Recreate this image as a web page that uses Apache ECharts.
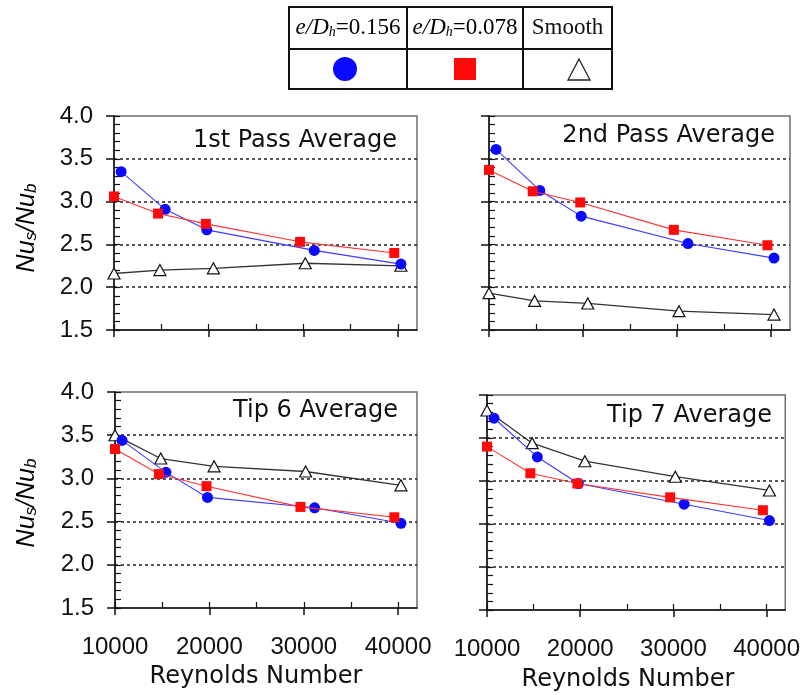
<!DOCTYPE html>
<html>
<head>
<meta charset="utf-8">
<script src="https://cdn.jsdelivr.net/npm/echarts@6/dist/echarts.min.js"></script>
<style>
  html, body { margin: 0; padding: 0; background: #ffffff; }
  #chart { width: 803px; height: 695px; }
</style>
</head>
<body>
<div id="chart"></div>
<script>
// Reynolds numbers at which each configuration was measured
const reRib156 = [10750, 15400, 19800, 31150, 40300];
const reRib078 = [10000, 14650, 19700, 29650, 39600];
const reSmooth = [10000, 14850, 20500, 30200, 40300];

// Nu_s / Nu_b, e/Dh = 0.156 (blue circles)
const rib156Pass1 = [3.35, 2.91, 2.67, 2.43, 2.27];
const rib156Pass2 = [3.61, 3.13, 2.83, 2.51, 2.34];
const rib156Tip6  = [3.44, 3.07, 2.78, 2.66, 2.48];
const rib156Tip7  = [3.73, 3.28, 2.97, 2.73, 2.54];

// Nu_s / Nu_b, e/Dh = 0.078 (red squares)
const rib078Pass1 = [3.06, 2.86, 2.74, 2.53, 2.40];
const rib078Pass2 = [3.37, 3.12, 2.99, 2.67, 2.49];
const rib078Tip6  = [3.34, 3.05, 2.91, 2.67, 2.55];
const rib078Tip7  = [3.40, 3.09, 2.97, 2.81, 2.66];

// Nu_s / Nu_b, smooth channel (open triangles)
const smoothPass1 = [2.16, 2.20, 2.22, 2.28, 2.25];
const smoothPass2 = [1.93, 1.84, 1.81, 1.72, 1.68];
const smoothTip6  = [3.50, 3.23, 3.14, 3.08, 2.92];
const smoothTip7  = [3.82, 3.44, 3.23, 3.05, 2.89];

const panelTitles = ['1st Pass Average', '2nd Pass Average', 'Tip 6 Average', 'Tip 7 Average'];
const xMajorTicks = [10000, 20000, 30000, 40000];
const xMinorTicks = [10000, 15000, 20000, 25000, 30000, 35000, 40000];
const xRange = [10000, 42000];
const yRange = [1.5, 4.0];
const legendLabels = ['0.156', '0.078', 'Smooth'];
const xAxisTitle = 'Reynolds Number';

const panelData = [
  { r156: rib156Pass1, r078: rib078Pass1, sm: smoothPass1 },
  { r156: rib156Pass2, r078: rib078Pass2, sm: smoothPass2 },
  { r156: rib156Tip6,  r078: rib078Tip6,  sm: smoothTip6 },
  { r156: rib156Tip7,  r078: rib078Tip7,  sm: smoothTip7 }
];

// panel frames (pixels)
const gridBoxes = [
  { left: 114, top: 116, width: 303, height: 214 },
  { left: 489, top: 116, width: 301, height: 214 },
  { left: 115, top: 392, width: 302, height: 216 },
  { left: 487, top: 395, width: 301, height: 215 }
];
const titlePos = [
  { x: 397, y: 141 }, { x: 775, y: 136 }, { x: 398, y: 411 }, { x: 772, y: 416 }
];

const tickFont = '"Liberation Sans", Arial, sans-serif';
const textFont = '"DejaVu Sans", Verdana, sans-serif';

const grids = [], xAxes = [], yAxes = [], series = [];

const zip = (xs, ys) => xs.map((x, i) => [x, ys[i]]);

gridBoxes.forEach((g, i) => {
  const showYLabels = (i % 2 === 0);
  const showXLabels = (i >= 2);
  grids.push(Object.assign({
    show: true, borderColor: '#6e6e6e', borderWidth: 1.5, backgroundColor: 'transparent'
  }, g));

  // primary x axis: outward major ticks and labels
  xAxes.push({
    type: 'value', gridIndex: i, min: xRange[0], max: xRange[1], position: 'bottom',
    axisLine: { show: true, lineStyle: { color: '#111', width: 1.5 } },
    axisTick: { show: true, inside: false, length: 7, customValues: xMajorTicks,
                lineStyle: { color: '#111', width: 1.5 } },
    axisLabel: { show: showXLabels, customValues: xMajorTicks, margin: 27,
                 color: '#111', fontSize: 24, fontFamily: tickFont,
                 formatter: v => String(v) },
    splitLine: { show: false }
  });
  // secondary x axis: inward half-step ticks
  xAxes.push({
    type: 'value', gridIndex: i, min: xRange[0], max: xRange[1], position: 'bottom',
    axisLine: { show: false },
    axisTick: { show: true, inside: true, length: 6, customValues: xMinorTicks,
                lineStyle: { color: '#111', width: 1.2 } },
    axisLabel: { show: false },
    splitLine: { show: false }
  });

  // primary y axis: labels, outward ticks, dashed grid lines
  yAxes.push({
    type: 'value', gridIndex: i, min: yRange[0], max: yRange[1], interval: 0.5, position: 'left',
    axisLine: { show: true, lineStyle: { color: '#111', width: 1.5 } },
    axisTick: { show: true, inside: false, length: 8, lineStyle: { color: '#111', width: 1.5 } },
    axisLabel: { show: showYLabels, margin: 21, color: '#111', fontSize: 24, fontFamily: tickFont,
                 formatter: v => v.toFixed(1) },
    splitLine: { show: true, showMinLine: false, showMaxLine: false,
                 lineStyle: { color: '#222', width: 1.5, type: [3, 3] } }
  });
  // secondary y axis: inward 0.1 ticks
  yAxes.push({
    type: 'value', gridIndex: i, min: yRange[0], max: yRange[1], interval: 0.1, position: 'left',
    offset: 0,
    axisLine: { show: false },
    axisTick: { show: true, inside: true, length: 6, lineStyle: { color: '#111', width: 1.2 } },
    axisLabel: { show: false },
    splitLine: { show: false }
  });

  const d = panelData[i];
  series.push({
    type: 'line', xAxisIndex: 2 * i, yAxisIndex: 2 * i, name: 'Smooth',
    data: zip(reSmooth, d.sm),
    symbol: 'triangle', symbolSize: [12, 11],
    itemStyle: { color: '#ffffff', borderColor: '#111', borderWidth: 1.2 },
    lineStyle: { color: '#333', width: 1.3 },
    z: 3, animation: false
  });
  series.push({
    type: 'line', xAxisIndex: 2 * i, yAxisIndex: 2 * i, name: 'e/Dh=0.156',
    data: zip(reRib156, d.r156),
    symbol: 'circle', symbolSize: 11,
    itemStyle: { color: '#0a0aff' },
    lineStyle: { color: '#3b3bff', width: 1.1 },
    z: 4, animation: false
  });
  series.push({
    type: 'line', xAxisIndex: 2 * i, yAxisIndex: 2 * i, name: 'e/Dh=0.078',
    data: zip(reRib078, d.r078),
    symbol: 'rect', symbolSize: 10,
    itemStyle: { color: '#ff0a0a' },
    lineStyle: { color: '#ff3333', width: 1.1 },
    z: 5, animation: false
  });
});

// legend table, titles, axis names
const graphics = [];
const tbl = { x0: 289, x1: 407, x2: 523, x3: 612, y0: 7, y1: 49, y2: 89 };
const lineStyle = { stroke: '#111', lineWidth: 2 };
graphics.push({ type: 'rect', shape: { x: tbl.x0, y: tbl.y0, width: tbl.x3 - tbl.x0, height: tbl.y2 - tbl.y0 },
  style: { fill: 'none', stroke: '#111', lineWidth: 2 } });
graphics.push({ type: 'line', shape: { x1: tbl.x0, y1: tbl.y1, x2: tbl.x3, y2: tbl.y1 }, style: lineStyle });
graphics.push({ type: 'line', shape: { x1: tbl.x1, y1: tbl.y0, x2: tbl.x1, y2: tbl.y2 }, style: lineStyle });
graphics.push({ type: 'line', shape: { x1: tbl.x2, y1: tbl.y0, x2: tbl.x2, y2: tbl.y2 }, style: lineStyle });

const serif = '"Liberation Serif", "Times New Roman", serif';
const ratioRich = {
  i: { fontFamily: serif, fontStyle: 'italic', fontSize: 23, color: '#111' },
  s: { fontFamily: serif, fontStyle: 'italic', fontSize: 14, color: '#111', verticalAlign: 'bottom', padding: [8, 0, 0, 0] },
  n: { fontFamily: serif, fontSize: 23, color: '#111' }
};
graphics.push({ type: 'text', style: { text: '{i|e/D}{s|h}{n|=' + legendLabels[0] + '}', rich: ratioRich,
  x: (tbl.x0 + tbl.x1) / 2, y: 28, align: 'center', verticalAlign: 'middle' } });
graphics.push({ type: 'text', style: { text: '{i|e/D}{s|h}{n|=' + legendLabels[1] + '}', rich: ratioRich,
  x: (tbl.x1 + tbl.x2) / 2, y: 28, align: 'center', verticalAlign: 'middle' } });
graphics.push({ type: 'text', style: { text: legendLabels[2], fontFamily: serif, fontSize: 23, fill: '#111',
  x: (tbl.x2 + tbl.x3) / 2, y: 28, align: 'center', verticalAlign: 'middle' } });

graphics.push({ type: 'circle', shape: { cx: 345, cy: 69, r: 12 }, style: { fill: '#0a0aff' } });
graphics.push({ type: 'rect', shape: { x: 454, y: 58, width: 22, height: 22 }, style: { fill: '#ff0a0a' } });
graphics.push({ type: 'polygon', shape: { points: [[579, 59], [590, 80], [568, 80]] },
  style: { fill: '#ffffff', stroke: '#222', lineWidth: 1.3 } });

panelTitles.forEach((t, i) => {
  graphics.push({ type: 'text', style: { text: t, fontFamily: textFont, fontSize: 24, fill: '#111',
    x: titlePos[i].x, y: titlePos[i].y, align: 'right', verticalAlign: 'middle' }, z: 10 });
});

graphics.push({ type: 'text', style: { text: xAxisTitle, fontFamily: textFont, fontSize: 24, fill: '#111',
  x: 256, y: 677, align: 'center', verticalAlign: 'middle' } });
graphics.push({ type: 'text', style: { text: xAxisTitle, fontFamily: textFont, fontSize: 24, fill: '#111',
  x: 628, y: 680, align: 'center', verticalAlign: 'middle' } });

const nuRich = {
  i: { fontFamily: tickFont, fontStyle: 'italic', fontSize: 25, color: '#111' },
  s: { fontFamily: tickFont, fontStyle: 'italic', fontSize: 17, color: '#111', verticalAlign: 'bottom', padding: [8, 0, 0, 0] }
};
[228, 503].forEach(cy => {
  graphics.push({ type: 'text', x: 27, y: cy, rotation: Math.PI / 2,
    style: { text: '{i|Nu}{s|s}{i|/Nu}{s|b}', rich: nuRich, x: 0, y: 0, align: 'center', verticalAlign: 'middle' } });
});

const chart = echarts.init(document.getElementById('chart'), null, { renderer: 'canvas' });
chart.setOption({
  backgroundColor: '#ffffff',
  animation: false,
  grid: grids,
  xAxis: xAxes,
  yAxis: yAxes,
  series: series,
  graphic: graphics
});
</script>
</body>
</html>
